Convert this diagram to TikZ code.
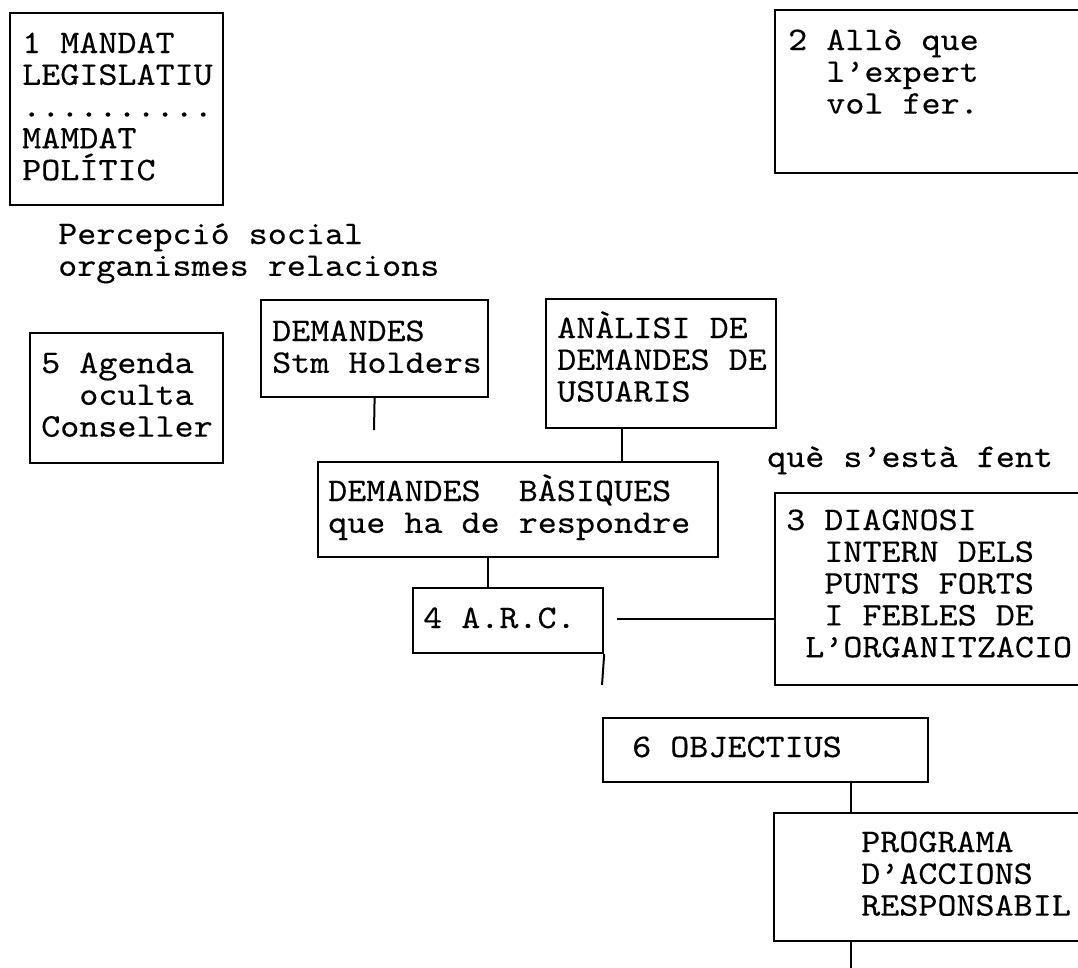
\documentclass[tikz,border=0pt]{standalone}
\usepackage{fontspec}
\newfontfamily\cour{lmmono10-regular.otf}[FakeStretch=1.1,FakeBold=0.25]
\begin{document}
\begin{tikzpicture}[x=1pt,y=-1pt,
  box/.style={draw, line width=2.2pt, inner sep=0pt, anchor=north west},
  txt/.style={anchor=base west, inner sep=0pt, font=\cour\fontsize{33}{31.8}\selectfont},
  conn/.style={line width=2pt}]
\useasboundingbox (0,0) rectangle (1078,967);
\clip (0,0) rectangle (1078,967);
% boxes
\node[box, minimum width=213pt, minimum height=192pt] (b1) at (9,12) {};
\node[box, minimum width=330pt, minimum height=163pt] (b2) at (774,9) {};
\node[box, minimum width=193pt, minimum height=130pt] (b5) at (29,332) {};
\node[box, minimum width=227pt, minimum height=97pt] (bstm) at (260,299) {};
\node[box, minimum width=230pt, minimum height=129pt] (bana) at (545,298) {};
\node[box, minimum width=400pt, minimum height=95pt] (bbas) at (317,461) {};
\node[box, minimum width=330pt, minimum height=192pt] (b3) at (774,492) {};
\node[box, minimum width=190pt, minimum height=65pt] (barc) at (412,587) {};
\node[box, minimum width=325pt, minimum height=64pt] (bobj) at (602,717) {};
\node[box, minimum width=330pt, minimum height=128pt] (bprog) at (773,812) {};
% texts
\node[txt] (t1) at (22,53) {\parbox[t]{400pt}{1 MANDAT\\LEGISLATIU\\..........\\MAMDAT\\POLÍTIC}};
\node[txt] (t2) at (788,50) {\parbox[t]{400pt}{2 Allò que\\\null~~l’expert\\\null~~vol fer.}};
\node[txt] (tp) at (58,244) {\parbox[t]{500pt}{Percepció social\\organismes relacions}};
\node[txt] (t5) at (41,373) {\parbox[t]{400pt}{5 Agenda\\\null~~oculta\\Conseller}};
\node[txt] (tstm) at (272,341) {\parbox[t]{400pt}{DEMANDES\\Stm Holders}};
\node[txt] (tana) at (557,338) {\parbox[t]{400pt}{ANÀLISI DE\\DEMANDES DE\\USUARIS}};
\node[txt] (tbas) at (328,501) {\parbox[t]{500pt}{DEMANDES~~BÀSIQUES\\que ha de respondre}};
\node[txt] (tq) at (767,467) {què s’està fent};
\node[txt] (t3) at (786,530) {\parbox[t]{400pt}{3 DIAGNOSI\\\null~~INTERN DELS\\\null~~PUNTS FORTS\\\null~~I FEBLES DE\\\null~L’ORGANITZACIO}};
\node[txt] (tarc) at (423,628) {4 A.R.C.};
\node[txt] (tobj) at (632,757) {6 OBJECTIUS};
\node[txt] (tprog) at (861,852) {\parbox[t]{400pt}{PROGRAMA\\D’ACCIONS\\RESPONSABIL}};
% connector helpers
\coordinate (xa) at (622,0);
\coordinate (xb) at (488,0);
\coordinate (xc) at (851,0);
\coordinate (e1) at (374,430);
\coordinate (e2) at (602,685);
\coordinate (e3) at (617,619);
\coordinate (e4) at (851,980);
% connectors
\draw[conn] (bstm.south) -- (e1);
\draw[conn] (bana.south -| xa) -- (bbas.north -| xa);
\draw[conn] (bbas.south -| xb) -- (barc.north -| xb);
\draw[conn] (barc.south east) -- (e2);
\draw[conn] (e3) -- (e3 -| b3.west);
\draw[conn] (bobj.south -| xc) -- (bprog.north -| xc);
\draw[conn] (bprog.south -| xc) -- (e4);
\end{tikzpicture}
\end{document}
